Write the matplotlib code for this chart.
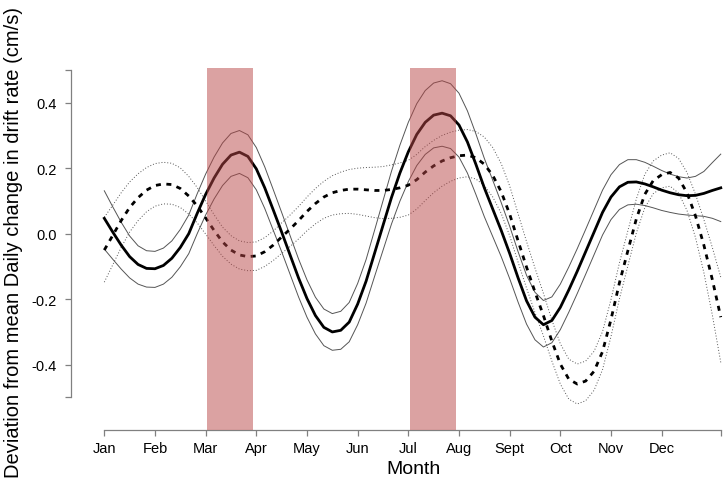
import matplotlib
matplotlib.use("Agg")
import matplotlib.pyplot as plt
from matplotlib.ticker import FixedLocator, FixedFormatter

# ---- data (day of year, 5-day steps) ----
days = list(range(0, 365, 5)) + [365]

solid_mean = [0.047, 0.005, -0.035, -0.070, -0.094, -0.106, -0.107, -0.097, -0.075, -0.042,
              0.000, 0.062, 0.120, 0.170, 0.212, 0.240, 0.249, 0.236, 0.198, 0.140,
              0.073, 0.005, -0.065, -0.135, -0.198, -0.250, -0.286, -0.300, -0.295, -0.270,
              -0.215, -0.145, -0.060, 0.025, 0.110, 0.185, 0.250, 0.303, 0.340, 0.362,
              0.368, 0.360, 0.332, 0.280, 0.212, 0.140, 0.075, 0.010, -0.060, -0.135,
              -0.205, -0.255, -0.278, -0.265, -0.225, -0.172, -0.115, -0.055, 0.005, 0.065,
              0.112, 0.143, 0.157, 0.158, 0.152, 0.143, 0.133, 0.125, 0.119, 0.116,
              0.117, 0.123, 0.132, 0.140]
solid_upper = [0.131, 0.082, 0.035, -0.007, -0.037, -0.052, -0.054, -0.044, -0.022, 0.013,
               0.057, 0.122, 0.182, 0.234, 0.277, 0.306, 0.315, 0.302, 0.263, 0.204,
               0.135, 0.065, -0.006, -0.077, -0.141, -0.194, -0.230, -0.244, -0.237, -0.210,
               -0.152, -0.079, 0.010, 0.100, 0.190, 0.270, 0.340, 0.397, 0.437, 0.460,
               0.467, 0.458, 0.429, 0.375, 0.305, 0.230, 0.163, 0.095, 0.023, -0.055,
               -0.127, -0.179, -0.204, -0.193, -0.154, -0.102, -0.046, 0.013, 0.073, 0.133,
               0.180, 0.211, 0.226, 0.226, 0.218, 0.206, 0.193, 0.182, 0.174, 0.170,
               0.175, 0.190, 0.217, 0.243]
solid_lower = [-0.047, -0.078, -0.108, -0.135, -0.154, -0.163, -0.164, -0.154, -0.133, -0.101,
               -0.061, 0.000, 0.057, 0.106, 0.147, 0.175, 0.184, 0.171, 0.134, 0.077,
               0.011, -0.055, -0.124, -0.193, -0.255, -0.306, -0.342, -0.356, -0.353, -0.330,
               -0.278, -0.212, -0.131, -0.051, 0.029, 0.099, 0.159, 0.208, 0.242, 0.262,
               0.267, 0.260, 0.234, 0.185, 0.120, 0.052, -0.009, -0.070, -0.137, -0.209,
               -0.276, -0.324, -0.346, -0.333, -0.293, -0.240, -0.183, -0.124, -0.064, -0.004,
               0.043, 0.074, 0.088, 0.090, 0.086, 0.079, 0.071, 0.065, 0.060, 0.057,
               0.055, 0.053, 0.047, 0.037]

dashed_mean = [-0.050, -0.005, 0.040, 0.080, 0.110, 0.133, 0.147, 0.152, 0.150, 0.138,
               0.115, 0.085, 0.048, 0.010, -0.025, -0.050, -0.065, -0.070, -0.068, -0.055,
               -0.035, -0.010, 0.014, 0.040, 0.068, 0.092, 0.112, 0.125, 0.132, 0.136,
               0.136, 0.134, 0.132, 0.132, 0.135, 0.140, 0.148, 0.165, 0.188, 0.207,
               0.222, 0.232, 0.238, 0.240, 0.232, 0.212, 0.178, 0.128, 0.060, -0.022,
               -0.102, -0.178, -0.250, -0.328, -0.398, -0.444, -0.459, -0.450, -0.420, -0.360,
               -0.262, -0.150, -0.052, 0.045, 0.120, 0.162, 0.180, 0.187, 0.170, 0.125,
               0.055, -0.035, -0.140, -0.255]
dotted_upper = [0.050, 0.087, 0.125, 0.158, 0.183, 0.202, 0.214, 0.218, 0.215, 0.201,
                0.175, 0.141, 0.100, 0.058, 0.020, -0.006, -0.022, -0.027, -0.025, -0.012,
                0.008, 0.033, 0.057, 0.083, 0.112, 0.138, 0.160, 0.177, 0.188, 0.196,
                0.200, 0.202, 0.203, 0.205, 0.210, 0.216, 0.224, 0.242, 0.266, 0.285,
                0.300, 0.310, 0.316, 0.318, 0.312, 0.295, 0.263, 0.214, 0.146, 0.061,
                -0.024, -0.105, -0.182, -0.264, -0.336, -0.383, -0.398, -0.389, -0.359, -0.299,
                -0.201, -0.089, 0.009, 0.106, 0.181, 0.222, 0.240, 0.247, 0.230, 0.187,
                0.121, 0.043, -0.042, -0.133]
dotted_lower = [-0.148, -0.095, -0.042, 0.005, 0.040, 0.067, 0.084, 0.091, 0.090, 0.080,
                0.060, 0.033, -0.001, -0.036, -0.069, -0.093, -0.108, -0.113, -0.112, -0.100,
                -0.082, -0.060, -0.039, -0.016, 0.009, 0.030, 0.047, 0.057, 0.061, 0.062,
                0.059, 0.054, 0.049, 0.046, 0.047, 0.050, 0.057, 0.075, 0.101, 0.125,
                0.145, 0.160, 0.170, 0.174, 0.167, 0.147, 0.112, 0.062, -0.006, -0.087,
                -0.166, -0.241, -0.312, -0.389, -0.459, -0.505, -0.520, -0.510, -0.478, -0.415,
                -0.314, -0.199, -0.098, 0.002, 0.079, 0.122, 0.140, 0.145, 0.124, 0.071,
                -0.011, -0.119, -0.248, -0.393]

highlight_periods = [(61, 88), (181, 208)]

month_ticks = [0, 30, 60, 90, 120, 150, 180, 210, 240, 270, 300, 330, 365]
month_labels = ["Jan", "Feb", "Mar", "Apr", "May", "Jun", "Jul", "Aug",
                "Sept", "Oct", "Nov", "Dec", ""]
y_ticks = [-0.5, -0.4, -0.2, 0.0, 0.2, 0.4, 0.5]
y_labels = ["", "-0.4", "-0.2", "0.0", "0.2", "0.4", ""]

# ---- figure ----
plt.rcParams['font.family'] = ['Liberation Sans', 'DejaVu Sans']
W, H = 726, 485
fig = plt.figure(figsize=(W / 100, H / 100), dpi=100)
left_px, right_px, top_px, bot_px = 71, 726, 69.3, 430.7
ax = fig.add_axes([left_px / W, 1 - bot_px / H, (right_px - left_px) / W, (bot_px - top_px) / H])

ax.set_xlim(-19.72, 368.1)
ax.set_ylim(-0.5985, 0.505)

thin_col = '#555555'
ax.plot(days, solid_upper, color=thin_col, lw=0.7)
ax.plot(days, solid_lower, color=thin_col, lw=0.7)
ax.plot(days, dotted_upper, color=thin_col, lw=0.7, linestyle=(0, (1, 2)))
ax.plot(days, dotted_lower, color=thin_col, lw=0.7, linestyle=(0, (1, 2)))
ax.plot(days, dashed_mean, color='black', lw=2.0, linestyle=(0, (1.8, 2.0)))
ax.plot(days, solid_mean, color='black', lw=2.0)

for a, b in highlight_periods:
    ax.axvspan(a, b, color=(0.72, 0.28, 0.28), alpha=0.5, lw=0, zorder=5)

for s in ['top', 'right']:
    ax.spines[s].set_visible(False)
for s in ['left', 'bottom']:
    ax.spines[s].set_color('#808080')
    ax.spines[s].set_linewidth(0.9)
ax.spines['left'].set_bounds(-0.5, 0.5)
ax.spines['bottom'].set_bounds(0, 365)

ax.xaxis.set_major_locator(FixedLocator(month_ticks))
ax.xaxis.set_major_formatter(FixedFormatter(month_labels))
ax.yaxis.set_major_locator(FixedLocator(y_ticks))
ax.yaxis.set_major_formatter(FixedFormatter(y_labels))
ax.tick_params(axis='both', colors='#808080', labelcolor='black', length=4, width=0.9,
               labelsize=10.5)
ax.tick_params(axis='x', pad=4)
ax.tick_params(axis='y', pad=6)

fig.text(14 / W, 1 - 243 / H, "Deviation from mean Daily change in drift rate (cm/s)",
         rotation=90, ha='center', va='center', fontsize=14.5)
fig.text(414 / W, 1 - 470 / H, "Month", ha='center', va='center', fontsize=14)

fig.savefig("out.png", dpi=100)
